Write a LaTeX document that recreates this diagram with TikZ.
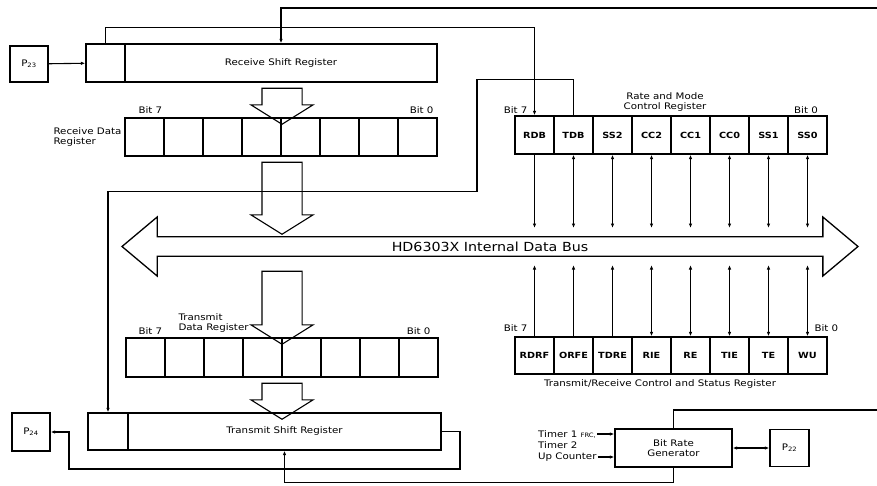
\documentclass[tikz,border=0pt]{standalone}
\usepackage{fontspec}
\setmainfont{DejaVu Sans}[FakeStretch=1.14]
\usetikzlibrary{arrows.meta,shapes.arrows}

\begin{document}
\begin{tikzpicture}[x=1pt,y=-1pt,
  >={Latex[length=4.5pt,width=3.5pt]},
  every node/.style={font=\fontsize{9}{10}\selectfont},
  box/.style={draw,line width=1.3pt,inner sep=0pt},
  cell/.style={box,minimum width=39,minimum height=38},
  bitname/.style={cell,font=\fontsize{8.5}{10}\selectfont\bfseries},
  sig/.style={line width=1.1pt},
  fatarrow/.style={single arrow,draw,line width=1.1pt,rotate=-90,inner xsep=0pt,inner ysep=19.5pt,
    single arrow head extend=11,single arrow tip angle=116}]
  \useasboundingbox (0,0) rectangle (877,485);

  \node[box,minimum width=38,minimum height=36] (p23) at (29,64) {P\textsubscript{23}};
  \node[cell] (rsrbit) at (105.5,63) {};
  \node[box,minimum width=312,minimum height=38] (rsr) at (281,63) {Receive Shift Register};

  \foreach\name in {0,...,7}{
      \pgfmathsetmacro\x{144.5+39*\name}
  	\node[cell] (rdr\name) at (\x,137) {};
  }
  \node[anchor=west] (rdrmsb) at (135,110) {Bit 7};
  \node[anchor=east] (rdrlsb) at (437,110) {Bit 0};
  \node[align=left,anchor=west] (rdrlabel) at (50,137) {Receive Data\\Register};

  \foreach\name in {0,...,7}{
      \pgfmathsetmacro\x{145.5+39*\name}
  	\node[cell,minimum height=39] (tdr\name) at (\x,357.5) {};
  }
  \node[anchor=west] (tdrmsb) at (135,331) {Bit 7};
  \node[anchor=east] (tdrlsb) at (434,331) {Bit 0};
  \node[align=left,anchor=west] (tdrlabel) at (175,323) {Transmit\\Data Register};

  \node[cell,minimum width=40,minimum height=37] (tsrbit) at (108,431.5) {};
  \node[box,minimum width=313,minimum height=37] (tsr) at (284.5,431.5) {Transmit Shift Register};
  \node[box,minimum width=38,minimum height=38] (p24) at (31,432) {P\textsubscript{24}};

  \node[double arrow,draw,line width=1.3pt,minimum height=736,minimum width=59,
    double arrow head extend=11,double arrow tip angle=80,inner sep=0pt,
    font=\fontsize{12.5}{14}\selectfont] (bus) at (490,246.5) {HD6303X Internal Data Bus};
  \coordinate (bustop) at (0,228);
  \coordinate (busbot) at (0,265);

  \node[fatarrow,minimum height=36] (rsr2rdr) at (282,100) {};
  \node[fatarrow,minimum height=72] (rdr2bus) at (282,192) {};
  \node[fatarrow,minimum height=73] (bus2tdr) at (282,301.5) {};
  \node[fatarrow,minimum height=36] (tdr2tsr) at (282,395) {};

  \foreach\name [count=\i from 0] in {RDB,TDB,SS2,CC2,CC1,CC0,SS1,SS0}{
      \pgfmathsetmacro\x{534.5+39*\i}
  	\node[bitname] (rmcr\i) at (\x,135) {\name};
  }
  \node[anchor=east] (rmcrmsb) at (531,110) {Bit 7};
  \node (rmcrlsb) at (806,110) {Bit 0};
  \node[align=center] (rmcrlabel) at (665,102) {Rate and Mode\\Control Register};

  \draw[sig,->] (rmcr0.south) -- (rmcr0.south |- bustop);
  \foreach\i in {1,...,7}
      \draw[sig,<->] (rmcr\i.south) -- (rmcr\i.south |- bustop);

  \foreach\name [count=\i from 0] in {RDRF,ORFE,TDRE,RIE,RE,TIE,TE,WU}{
      \pgfmathsetmacro\x{534.5+39*\i}
  	\node[bitname,minimum height=37] (trcsr\i) at (\x,355.5) {\name};
  }
  \node[anchor=east] (trcsrmsb) at (531,328) {Bit 7};
  \node[anchor=west] (trcsrlsb) at (811,328) {Bit 0};
  \node (trcsrlabel) at (660,384) {Transmit/Receive Control and Status Register};

  \foreach\i in {0,1,2}
      \draw[sig,->] (trcsr\i.north) -- (trcsr\i.north |- busbot);
  \foreach\i in {3,...,7}
      \draw[sig,<->] (trcsr\i.north) -- (trcsr\i.north |- busbot);

  \node[box,minimum width=117,minimum height=38,align=center] (brg) at (673.5,448) {Bit Rate\\Generator};
  \node[box,minimum width=39,minimum height=37] (p22) at (789.5,448) {P\textsubscript{22}};
  \node[anchor=west,inner sep=1pt] (tmr1) at (537,434) {Timer 1 {\fontsize{6}{7}\selectfont FRC,}};
  \node[anchor=west,inner sep=1pt] (tmr2) at (537,445.5) {Timer 2};
  \node[anchor=west,inner sep=1pt] (upcnt) at (537,457) {Up Counter};
  \draw[sig,->] (tmr1) -- (tmr1 -| brg.west);
  \draw[sig,->] (upcnt) -- (upcnt -| brg.west);
  \draw[sig,<->] (brg) -- (p22);

  \coordinate (clkin) at (877,8);
  \coordinate (clkout) at (877,410);
  \draw[sig] (brg.north) |- (clkout);
  \draw[sig,->] (clkin) -| (rsr.north);
  \draw[sig,->] (brg.south) -- ++(0,15) -| (tsr.south);

  \draw[sig,->] (p23) -- (rsrbit);
  \draw[sig,->] (rsrbit.north) -- ++(0,-16) -| (rmcr0.north);
  \draw[sig,->] (rmcr1.north) -- ++(0,-36) -| ++(-96.5,112) -| (tsrbit.north);
  \draw[sig,->] (tsr.east) -| (460,469) -| (69,432) -- (p24);
\end{tikzpicture}
\end{document}
